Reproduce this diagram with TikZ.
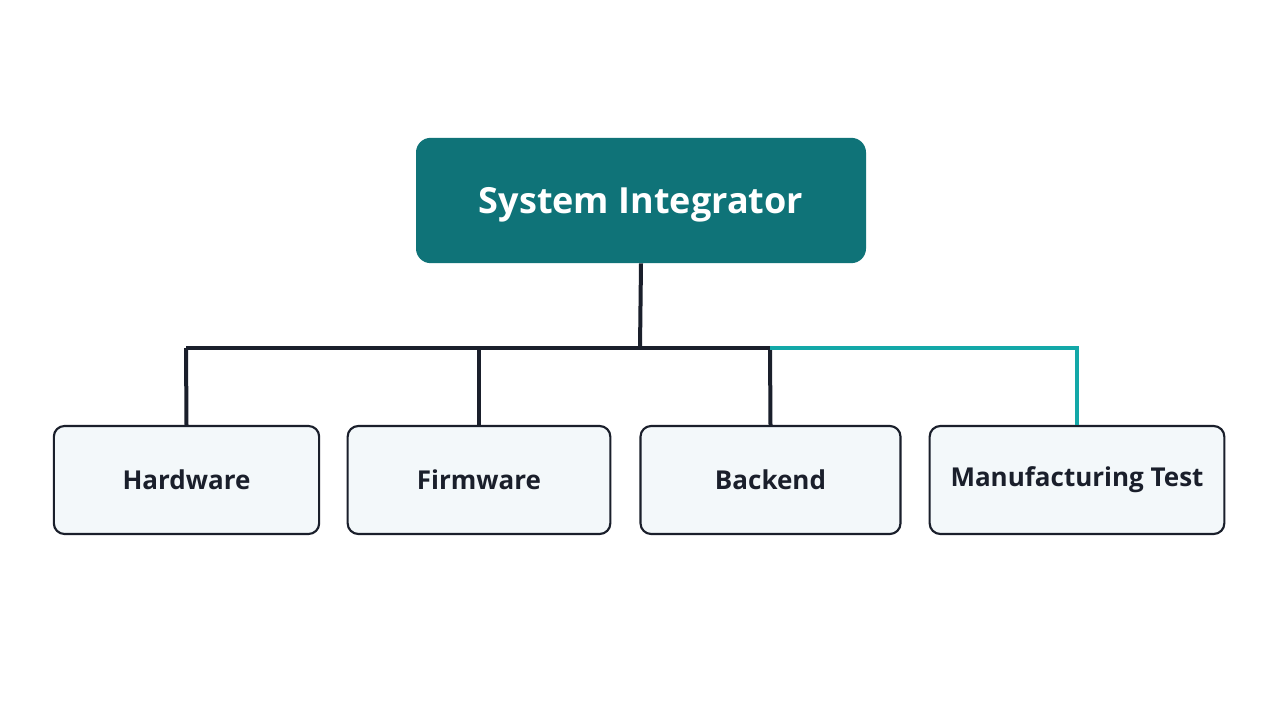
\documentclass[tikz,border=0pt]{standalone}
\usepackage{fontspec}
\setmainfont{Open Sans}
\definecolor{teal1}{HTML}{0F7378}
\definecolor{dark}{HTML}{1A1F2B}
\definecolor{boxbg}{HTML}{F3F8FA}
\definecolor{accent}{HTML}{13A8A8}
\begin{document}
\begin{tikzpicture}[x=0.75pt,y=-0.75pt,
  top/.style={draw=none,fill=teal1,rounded corners=11pt,minimum width=337.5pt,minimum height=94pt,text=white,font=\fontsize{27}{30}\selectfont\bfseries},
  leaf/.style={draw=dark,line width=1.6pt,fill=boxbg,rounded corners=8pt,minimum height=81pt,text=dark,font=\fontsize{19.5}{23}\selectfont\bfseries},
  link/.style={draw=dark,line width=3pt},
  hl/.style={draw=accent,line width=3pt}]
\useasboundingbox (0,0) rectangle (1279,720);
\fill[white] (0,0) rectangle (1279,720);
\node[top] (si) at (641,200.5) {};
\node[text=white,font=\fontsize{27}{30}\selectfont\bfseries] (sit) at (641,205) {System Integrator};
\node[leaf,minimum width=199pt] (hw) at (186.5,480) {\raisebox{-2pt}{Hardware}};
\node[leaf,minimum width=197pt] (fw) at (479,480) {\raisebox{-2pt}{Firmware}};
\node[leaf,minimum width=195pt] (be) at (770.5,480) {\raisebox{-2pt}{Backend}};
\node[leaf,minimum width=221pt] (mt) at (1077,480) {\raisebox{-2pt}{Manufacturing Test}};
\coordinate (j) at (640,348);
\coordinate (l) at (186,348);
\coordinate (m) at (770,348);
\coordinate (r) at (1077,348);
\draw[link] (si.south) -- (j);
\draw[link] (l) -- (m);
\draw[link] (l) -- (hw.north);
\draw[link] (fw.north |- j) -- (fw.north);
\draw[link] (m) -- (be.north);
\draw[hl] (m) -- (r) -- (mt.north);
\end{tikzpicture}
\end{document}
